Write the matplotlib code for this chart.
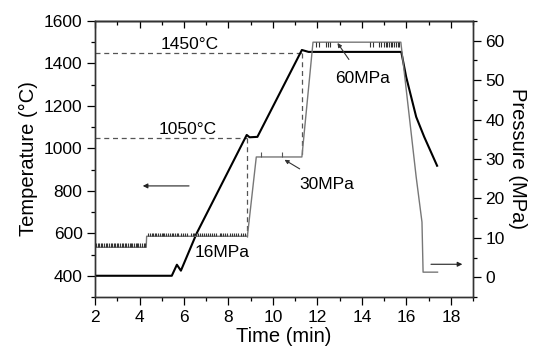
import numpy as np
import matplotlib.pyplot as plt
from matplotlib.ticker import MultipleLocator

plt.rcParams['font.family'] = ['Liberation Sans', 'DejaVu Sans']

# temperature trace (min, degC)
t_time = [2.0, 5.45, 5.68, 5.86, 6.57, 8.82, 8.95, 9.3, 11.3, 11.6, 15.77, 15.99, 16.44, 16.8, 17.38]
t_temp = [400, 400, 452, 424, 600, 1063, 1052, 1054, 1463, 1454, 1454, 1336, 1148, 1054, 918]

# pressure trace (min, MPa)
p_time = [2.0, 4.3, 4.32, 8.85, 9.25, 11.3, 11.8, 15.75, 15.8, 16.44, 16.7, 16.75, 17.4]
p_press = [7.6, 7.6, 10.4, 10.4, 30.5, 30.5, 59.6, 59.6, 57.1, 25.4, 14.0, 1.3, 1.3]

# noise spikes on the pressure plateaus
spk16a = [2.05, 2.12, 2.2, 2.25, 2.33, 2.4, 2.5, 2.55, 2.62, 2.7, 2.78, 2.85, 2.9, 2.98,
          3.05, 3.12, 3.2, 3.27, 3.33, 3.4, 3.48, 3.55, 3.6, 3.68, 3.75, 3.82, 3.9, 3.95,
          4.02, 4.1, 4.18, 4.25]
spk16b = [4.4, 4.47, 4.55, 4.6, 4.68, 4.75, 4.85, 4.92, 5.0, 5.05, 5.12, 5.2, 5.3, 5.38,
          5.45, 5.5, 5.6, 5.68, 5.75, 5.85, 5.95, 6.05, 6.15, 6.3, 6.4, 6.47, 6.55, 6.62,
          6.7, 6.8, 6.9, 7.0, 7.07, 7.15, 7.25, 7.35, 7.45, 7.6, 7.67, 7.75, 7.85, 7.95,
          8.05, 8.15, 8.25, 8.35, 8.45, 8.55, 8.65, 8.75]
spk30 = [9.45, 10.4]
spk60 = [11.95, 12.05, 12.4, 12.48, 12.56, 14.35, 14.48, 14.75, 14.88, 15.0, 15.06,
         15.14, 15.22, 15.3, 15.36, 15.44, 15.52, 15.6, 15.66]

fig = plt.figure(figsize=(5.34, 3.54), dpi=100)
ax = fig.add_axes([0.178, 0.161, 0.708, 0.780])
ax2 = ax.twinx()

ax.plot(t_time, t_temp, color='black', lw=1.5, zorder=3)

# guide lines
dash = dict(color='#555555', lw=0.9, ls=(0, (4, 3)))
ax.plot([2, 11.3], [1450, 1450], **dash)
ax.plot([2, 8.82], [1050, 1050], **dash)
ax.plot([8.82, 8.82], [1050, 583], **dash)
ax.plot([11.3, 11.3], [1450, 960], **dash)

ax2.plot(p_time, p_press, color='#777777', lw=1.0)
ax2.vlines(spk16a, 7.6, 8.6, color='#333333', lw=0.8)
ax2.vlines(spk16b, 10.4, 11.3, color='#333333', lw=0.8)
ax2.vlines(spk30, 30.5, 31.7, color='#555555', lw=0.8)
ax2.vlines(spk60, 58.5, 59.6, color='#333333', lw=0.8)

ax.set_xlim(2, 19)
ax.set_ylim(300, 1600)
ax2.set_ylim(-5, 65)

fs = 12.5
ax.text(6.26, 1487, '1450\u00b0C', fontsize=fs, ha='center', va='center')
ax.text(6.17, 1087, '1050\u00b0C', fontsize=fs, ha='center', va='center')
ax.text(7.7, 508, '16MPa', fontsize=fs, ha='center', va='center')
ax.annotate('30MPa', xy=(10.52, 946), xytext=(12.4, 828), fontsize=fs,
            ha='center', va='center',
            arrowprops=dict(arrowstyle='-|>', color='#333333', lw=0.8,
                            mutation_scale=6, shrinkA=8, shrinkB=0))
ax.annotate('60MPa', xy=(12.9, 1496), xytext=(14.02, 1327), fontsize=fs,
            ha='center', va='center',
            arrowprops=dict(arrowstyle='-|>', color='#333333', lw=0.8,
                            mutation_scale=6, shrinkA=8, shrinkB=0))

# axis direction arrows
ax.annotate('', xy=(4.02, 823), xytext=(6.35, 823),
            arrowprops=dict(arrowstyle='-|>', color='#222222', lw=0.8, mutation_scale=7))
ax2.annotate('', xy=(18.64, 3.3), xytext=(16.98, 3.3),
             arrowprops=dict(arrowstyle='-|>', color='#222222', lw=0.8, mutation_scale=7))

ax.xaxis.set_major_locator(MultipleLocator(2))
ax.xaxis.set_minor_locator(MultipleLocator(1))
ax.yaxis.set_major_locator(MultipleLocator(200))
ax.yaxis.set_minor_locator(MultipleLocator(100))
ax2.yaxis.set_major_locator(MultipleLocator(10))
ax2.yaxis.set_minor_locator(MultipleLocator(5))

for a in (ax, ax2):
    a.tick_params(which='major', length=5.5, width=0.9, labelsize=12.5, direction='out')
    a.tick_params(which='minor', length=3, width=0.9, direction='out')
    for s in a.spines.values():
        s.set_linewidth(1.0)
        s.set_color('#333333')

top = ax.secondary_xaxis('top')
top.xaxis.set_major_locator(MultipleLocator(2))
top.xaxis.set_minor_locator(MultipleLocator(1))
top.tick_params(which='major', direction='in', length=5, width=0.9, labeltop=False)
top.tick_params(which='minor', direction='in', length=3, width=0.9)
top.spines['top'].set_linewidth(1.0)

ax.set_xlabel('Time (min)', fontsize=14.5, labelpad=2)
ax.set_ylabel('Temperature (\u00b0C)', fontsize=14.5, labelpad=4)
ax2.set_ylabel('Pressure (MPa)', fontsize=14.5, rotation=270, labelpad=16)

fig.savefig('out.png', dpi=100)
